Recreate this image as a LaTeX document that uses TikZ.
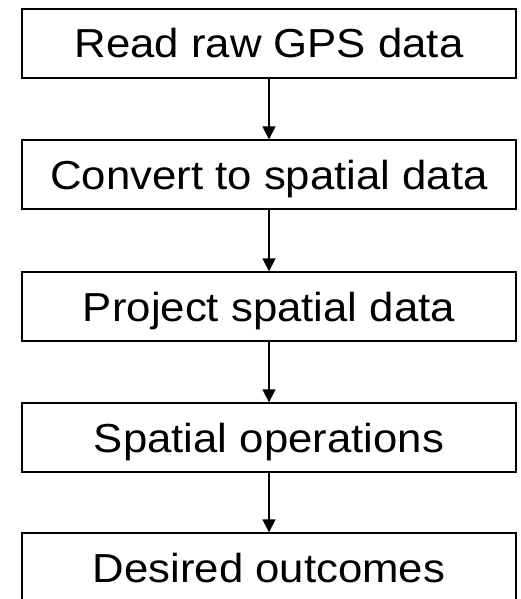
\documentclass[tikz,border=0pt]{standalone}
\usepackage{fontspec}
\setmainfont[FakeStretch=1.08]{Liberation Sans}
\usetikzlibrary{arrows.meta}
\tikzset{
  stepbox/.style={draw=black, line width=1.3pt, fill=white,
    minimum width=494pt, minimum height=69pt, inner sep=0pt,
    text height=29pt, text depth=0pt,
    font=\fontsize{40.5pt}{48pt}\selectfont},
  flow/.style={draw=black, line width=1.3pt,
    -{Triangle[length=13pt,width=13pt]}}
}
\begin{document}
\begin{tikzpicture}[x=1pt,y=-1pt]
  \useasboundingbox (0,0) rectangle (520,599);
  \clip (0,0) rectangle (520,599);
  \node[stepbox] (read)    at (269,43.5)  {Read raw GPS data};
  \node[stepbox] (convert) at (269,174.5) {Convert to spatial data};
  \node[stepbox] (project) at (269,306.5) {Project spatial data};
  \node[stepbox] (ops)     at (269,437.5) {Spatial operations};
  \node[stepbox] (outcome) at (269,567.5) {Desired outcomes};
  \draw[flow] (read)    -- (convert);
  \draw[flow] (convert) -- (project);
  \draw[flow] (project) -- (ops);
  \draw[flow] (ops)     -- (outcome);
\end{tikzpicture}
\end{document}
